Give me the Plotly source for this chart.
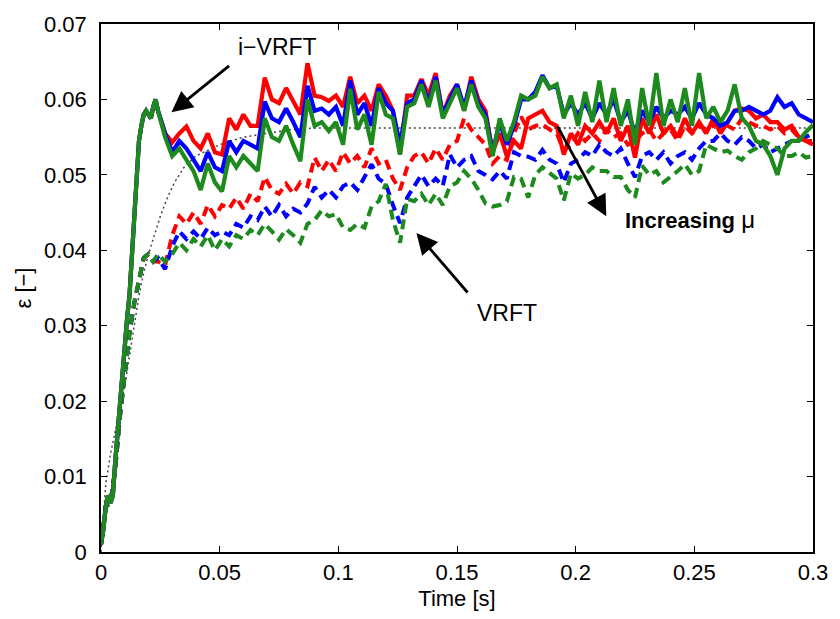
import plotly.graph_objects as go

# ---------------- data ----------------
# shared rise of the i-VRFT responses
T_EARLY = [0.000, 0.001, 0.002, 0.003, 0.004, 0.005, 0.006, 0.007, 0.008, 0.009, 0.010, 0.011,
           0.012, 0.013, 0.014, 0.015, 0.016, 0.017, 0.018, 0.019, 0.020, 0.021, 0.022, 0.023]
Y_EARLY = [0.001, 0.003, 0.006, 0.0075, 0.0065, 0.0075, 0.012, 0.016, 0.020, 0.024, 0.028, 0.031,
           0.034, 0.039, 0.046, 0.051, 0.0545, 0.0565, 0.058, 0.0585, 0.058, 0.0575, 0.059, 0.0600]

# shared rise of the VRFT responses
T_DEARLY = [0.000, 0.002, 0.004, 0.006, 0.008, 0.010, 0.012, 0.014, 0.016, 0.018, 0.020, 0.022]
Y_DEARLY = [0.001, 0.006, 0.0065, 0.011, 0.018, 0.024, 0.029, 0.033, 0.036, 0.039, 0.0395, 0.0385]

T_LATE = [0.024, 0.027, 0.030, 0.033, 0.036, 0.039, 0.042, 0.045, 0.048, 0.051, 0.054, 0.057,
          0.060, 0.063, 0.066, 0.069, 0.072, 0.075, 0.078, 0.081, 0.084, 0.087, 0.090, 0.093,
          0.096, 0.099, 0.102, 0.105, 0.108, 0.111, 0.114, 0.117, 0.120, 0.123, 0.126, 0.129,
          0.132, 0.135, 0.138, 0.141, 0.144, 0.147, 0.150, 0.153, 0.156, 0.159, 0.162, 0.165,
          0.168, 0.171, 0.174, 0.177, 0.180, 0.183, 0.186, 0.189, 0.192, 0.195, 0.198, 0.201,
          0.204, 0.207, 0.210, 0.213, 0.216, 0.219, 0.222, 0.225, 0.228, 0.231, 0.234, 0.237,
          0.240, 0.243, 0.246, 0.249, 0.252, 0.255, 0.258, 0.261, 0.264, 0.267, 0.270, 0.273,
          0.276, 0.279, 0.282, 0.285, 0.288, 0.291, 0.294, 0.297, 0.300]

# i-VRFT (solid)
IV_RED = [0.0585, 0.0555, 0.0543, 0.0555, 0.0564, 0.0545, 0.0535, 0.0555, 0.0530, 0.0527, 0.0575, 0.0560,
          0.0580, 0.0565, 0.0565, 0.0629, 0.0600, 0.0595, 0.0615, 0.0598, 0.0580, 0.0648, 0.0605, 0.0603,
          0.0598, 0.0605, 0.0590, 0.0630, 0.0595, 0.0605, 0.0585, 0.0620, 0.0605, 0.0585, 0.0527, 0.0605,
          0.0605, 0.0627, 0.0605, 0.0635, 0.0580, 0.0605, 0.0620, 0.0585, 0.0630, 0.0600, 0.0585, 0.0530,
          0.0555, 0.0525, 0.0545, 0.0535, 0.0575, 0.0580, 0.0585, 0.0570, 0.0565, 0.0527, 0.0555, 0.0540,
          0.0565, 0.0555, 0.0570, 0.0555, 0.0575, 0.0545, 0.0565, 0.0523, 0.0575, 0.0555, 0.0580, 0.0555,
          0.0565, 0.0550, 0.0575, 0.0555, 0.0570, 0.0555, 0.0575, 0.0555, 0.0570, 0.0585, 0.0588, 0.0585,
          0.0575, 0.0580, 0.0570, 0.0570, 0.0560, 0.0565, 0.0550, 0.0545, 0.0540]
IV_BLUE = [0.0585, 0.0555, 0.0530, 0.0545, 0.0535, 0.0520, 0.0505, 0.0530, 0.0510, 0.0505, 0.0545, 0.0530,
           0.0545, 0.0540, 0.0535, 0.0597, 0.0575, 0.0570, 0.0588, 0.0570, 0.0550, 0.0618, 0.0585, 0.0588,
           0.0580, 0.0590, 0.0565, 0.0625, 0.0580, 0.0595, 0.0565, 0.0615, 0.0595, 0.0585, 0.0540, 0.0595,
           0.0600, 0.0625, 0.0595, 0.0630, 0.0580, 0.0600, 0.0620, 0.0590, 0.0625, 0.0595, 0.0580, 0.0530,
           0.0570, 0.0540, 0.0565, 0.0600, 0.0600, 0.0610, 0.0632, 0.0615, 0.0618, 0.0580, 0.0595, 0.0580,
           0.0595, 0.0575, 0.0595, 0.0580, 0.0600, 0.0570, 0.0585, 0.0555, 0.0585, 0.0570, 0.0590, 0.0575,
           0.0585, 0.0580, 0.0590, 0.0575, 0.0595, 0.0580, 0.0575, 0.0565, 0.0570, 0.0585, 0.0585, 0.0590,
           0.0585, 0.0580, 0.0585, 0.0603, 0.0590, 0.0595, 0.0580, 0.0575, 0.0570]
IV_GREEN = [0.0585, 0.0550, 0.0525, 0.0535, 0.0520, 0.0505, 0.0480, 0.0515, 0.0490, 0.0478, 0.0525, 0.0510,
            0.0525, 0.0515, 0.0505, 0.0575, 0.0550, 0.0545, 0.0565, 0.0540, 0.0518, 0.0600, 0.0565, 0.0570,
            0.0558, 0.0570, 0.0540, 0.0614, 0.0560, 0.0580, 0.0540, 0.0610, 0.0580, 0.0575, 0.0527, 0.0590,
            0.0595, 0.0620, 0.0590, 0.0625, 0.0575, 0.0595, 0.0615, 0.0585, 0.0620, 0.0590, 0.0575, 0.0525,
            0.0575, 0.0545, 0.0570, 0.0605, 0.0600, 0.0605, 0.0630, 0.0615, 0.0620, 0.0575, 0.0605, 0.0565,
            0.0610, 0.0570, 0.0625, 0.0570, 0.0615, 0.0565, 0.0600, 0.0540, 0.0615, 0.0565, 0.0635, 0.0565,
            0.0600, 0.0570, 0.0615, 0.0565, 0.0635, 0.0575, 0.0590, 0.0570, 0.0585, 0.0620, 0.0575, 0.0565,
            0.0545, 0.0540, 0.0525, 0.0500, 0.0535, 0.0545, 0.0545, 0.0557, 0.0566]

# VRFT (dashed)
V_RED = [0.0385, 0.0380, 0.0420, 0.0445, 0.0435, 0.0450, 0.0435, 0.0460, 0.0445, 0.0460, 0.0455, 0.0470,
         0.0455, 0.0475, 0.0465, 0.0497, 0.0480, 0.0475, 0.0488, 0.0475, 0.0490, 0.0485, 0.0523, 0.0505,
         0.0520, 0.0505, 0.0530, 0.0515, 0.0525, 0.0510, 0.0535, 0.0515, 0.0520, 0.0495, 0.0480, 0.0510,
         0.0525, 0.0530, 0.0515, 0.0535, 0.0520, 0.0540, 0.0545, 0.0575, 0.0560, 0.0550, 0.0540, 0.0515,
         0.0525, 0.0520, 0.0555, 0.0577, 0.0560, 0.0565, 0.0567, 0.0560, 0.0555, 0.0532, 0.0540, 0.0555,
         0.0545, 0.0555, 0.0545, 0.0560, 0.0550, 0.0555, 0.0540, 0.0545, 0.0555, 0.0560, 0.0545, 0.0555,
         0.0560, 0.0545, 0.0565, 0.0555, 0.0565, 0.0560, 0.0565, 0.0570, 0.0565, 0.0560, 0.0575, 0.0570,
         0.0565, 0.0565, 0.0560, 0.0565, 0.0555, 0.0560, 0.0550, 0.0545, 0.0545]
V_BLUE = [0.0390, 0.0375, 0.0405, 0.0425, 0.0415, 0.0425, 0.0415, 0.0430, 0.0420, 0.0425, 0.0420, 0.0435,
          0.0430, 0.0445, 0.0440, 0.0458, 0.0445, 0.0460, 0.0445, 0.0455, 0.0450, 0.0462, 0.0484, 0.0470,
          0.0480, 0.0470, 0.0485, 0.0490, 0.0480, 0.0497, 0.0514, 0.0495, 0.0488, 0.0460, 0.0436, 0.0470,
          0.0485, 0.0500, 0.0485, 0.0495, 0.0485, 0.0527, 0.0510, 0.0520, 0.0525, 0.0505, 0.0500, 0.0494,
          0.0505, 0.0495, 0.0530, 0.0525, 0.0524, 0.0520, 0.0533, 0.0520, 0.0515, 0.0490, 0.0515, 0.0520,
          0.0530, 0.0525, 0.0540, 0.0530, 0.0525, 0.0535, 0.0515, 0.0497, 0.0525, 0.0530, 0.0520, 0.0530,
          0.0515, 0.0525, 0.0530, 0.0520, 0.0535, 0.0545, 0.0545, 0.0555, 0.0545, 0.0540, 0.0550, 0.0545,
          0.0535, 0.0540, 0.0530, 0.0535, 0.0540, 0.0545, 0.0545, 0.0550, 0.0555]
V_GREEN = [0.0395, 0.0385, 0.0395, 0.0410, 0.0400, 0.0415, 0.0405, 0.0420, 0.0400, 0.0415, 0.0405, 0.0420,
           0.0415, 0.0427, 0.0420, 0.0435, 0.0425, 0.0414, 0.0428, 0.0420, 0.0410, 0.0435, 0.0440, 0.0453,
           0.0445, 0.0448, 0.0430, 0.0427, 0.0435, 0.0430, 0.0458, 0.0465, 0.0488, 0.0440, 0.0410, 0.0468,
           0.0465, 0.0475, 0.0460, 0.0475, 0.0460, 0.0485, 0.0490, 0.0505, 0.0495, 0.0480, 0.0462, 0.0458,
           0.0460, 0.0465, 0.0497, 0.0495, 0.0470, 0.0500, 0.0510, 0.0502, 0.0495, 0.0466, 0.0502, 0.0495,
           0.0500, 0.0510, 0.0505, 0.0505, 0.0497, 0.0497, 0.0480, 0.0470, 0.0512, 0.0500, 0.0505, 0.0490,
           0.0497, 0.0505, 0.0514, 0.0500, 0.0505, 0.0540, 0.0535, 0.0530, 0.0532, 0.0525, 0.0520, 0.0530,
           0.0535, 0.0545, 0.0540, 0.0535, 0.0525, 0.0525, 0.0530, 0.0523, 0.0525]

# reference (dotted)
T_REF = [0.000, 0.002, 0.004, 0.006, 0.008, 0.010, 0.012, 0.014, 0.016, 0.018, 0.020, 0.022, 0.025,
         0.028, 0.031, 0.035, 0.040, 0.050, 0.060, 0.070, 0.080, 0.090, 0.100, 0.150, 0.200, 0.250, 0.300]
Y_REF = [0.000, 0.009, 0.013, 0.016, 0.019, 0.022, 0.026, 0.030, 0.034, 0.037, 0.0395, 0.0415, 0.0445,
         0.047, 0.049, 0.051, 0.0525, 0.054, 0.055, 0.0555, 0.056, 0.0562, 0.0562, 0.0562, 0.0562, 0.0562, 0.0562]

X_TICKS = [0, 0.05, 0.1, 0.15, 0.2, 0.25, 0.3]
X_TICKTEXT = ["0", "0.05", "0.1", "0.15", "0.2", "0.25", "0.3"]
Y_TICKS = [0, 0.01, 0.02, 0.03, 0.04, 0.05, 0.06, 0.07]
Y_TICKTEXT = ["0", "0.01", "0.02", "0.03", "0.04", "0.05", "0.06", "0.07"]

RED, BLUE, GREEN = "#ff0000", "#0000ff", "#1c8a1c"
FONT = "Liberation Sans, Arial, Helvetica, sans-serif"

fig = go.Figure()
fig.add_trace(go.Scatter(x=T_REF, y=Y_REF, mode="lines",
                         line=dict(color="#444444", width=1.5, dash="2px,3px"), showlegend=False))
for vals, col in [(V_RED, RED), (V_BLUE, BLUE), (V_GREEN, GREEN)]:
    fig.add_trace(go.Scatter(x=T_DEARLY + T_LATE, y=Y_DEARLY + vals, mode="lines",
                             line=dict(color=col, width=4, dash="10px,6px"), showlegend=False))
for vals, col in [(IV_RED, RED), (IV_BLUE, BLUE), (IV_GREEN, GREEN)]:
    fig.add_trace(go.Scatter(x=T_EARLY + T_LATE, y=Y_EARLY + vals, mode="lines",
                             line=dict(color=col, width=4.2), showlegend=False))

arrow = dict(showarrow=True, arrowhead=2, arrowsize=1.5, arrowwidth=2.8, arrowcolor="black",
             xref="x", yref="y", axref="x", ayref="y")
fig.add_annotation(x=0.0297, y=0.0583, ax=0.0546, ay=0.0646, text="", **arrow)
fig.add_annotation(x=0.1329, y=0.0423, ax=0.1550, ay=0.0342, text="", **arrow)
fig.add_annotation(x=0.2129, y=0.0445, ax=0.1921, ay=0.0566, text="", **arrow)

fig.add_annotation(x=0.0745, y=0.0669, text="i\u2212VRFT", showarrow=False,
                   font=dict(family=FONT, size=23, color="black"), xref="x", yref="y")
fig.add_annotation(x=0.1712, y=0.0317, text="VRFT", showarrow=False,
                   font=dict(family=FONT, size=23, color="black"), xref="x", yref="y")
fig.add_annotation(x=0.2483, y=0.0441, text="<b>Increasing</b> <span style='font-size:24px'>\u03bc</span>",
                   showarrow=False,
                   font=dict(family=FONT, size=22, color="black"), xref="x", yref="y")

axis_common = dict(showline=True, linecolor="black", linewidth=1.5, mirror="allticks",
                   ticks="inside", ticklen=6, tickwidth=1.2, tickcolor="black",
                   showgrid=False, zeroline=False,
                   tickfont=dict(family=FONT, size=22, color="black"))
fig.update_xaxes(range=[0, 0.3], tickvals=X_TICKS, ticktext=X_TICKTEXT,
                 title=dict(text="Time [s]", font=dict(family=FONT, size=22, color="black"), standoff=6),
                 **axis_common)
fig.update_yaxes(range=[0, 0.07], tickvals=Y_TICKS, ticktext=Y_TICKTEXT, ticklabelstandoff=8,
                 title=dict(text="\u03b5 [\u2212]", font=dict(family=FONT, size=22, color="black"), standoff=6),
                 **axis_common)
fig.update_layout(width=840, height=619, margin=dict(l=101, r=19, t=17, b=62),
                  plot_bgcolor="white", paper_bgcolor="white", showlegend=False)
fig.write_html("out.html")
